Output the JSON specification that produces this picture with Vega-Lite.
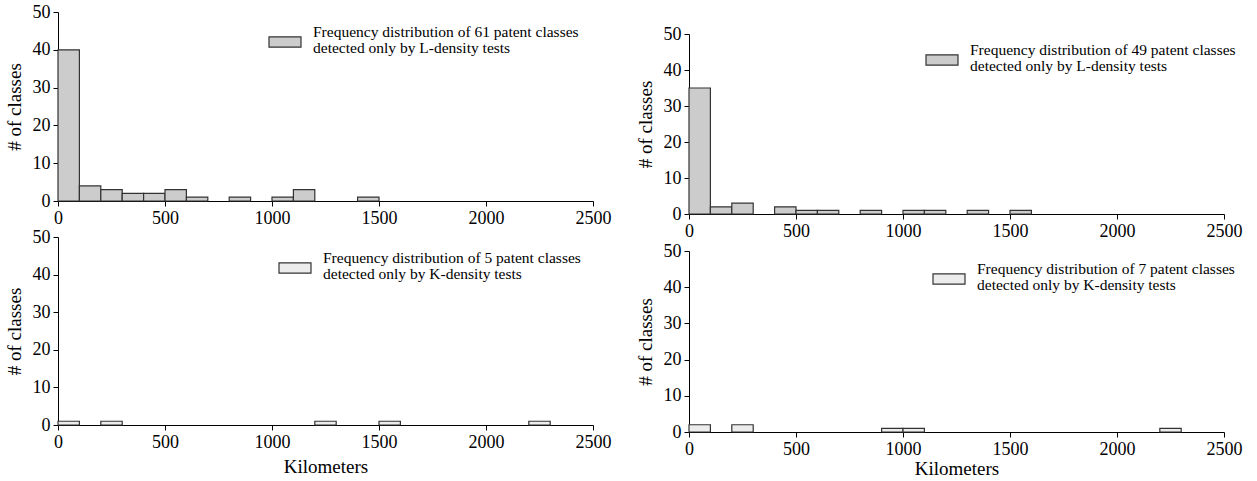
{
  "$schema": "https://vega.github.io/schema/vega-lite/v6.json",
  "padding": {"left": 5, "top": 3, "right": 5, "bottom": 0},
  "background": "white",
  "config": {
    "font": "Liberation Serif",
    "view": {"stroke": null},
    "axis": {
      "labelFont": "Liberation Serif", "labelFontSize": 18, "labelColor": "#000",
      "titleFont": "Liberation Serif", "titleFontSize": 19, "titleFontWeight": "normal", "titleColor": "#000",
      "domainColor": "#000", "domainWidth": 1, "tickColor": "#000", "tickSize": 5,
      "labelPadding": 3, "labelFlush": false, "labelOverlap": false, "grid": false, "format": "d"
    },
    "axisY": {"titlePadding": 8},
    "legend": {
      "orient": "none", "labelFont": "Liberation Serif", "labelFontSize": 15.5, "labelColor": "#000",
      "labelLimit": 600, "labelOffset": 11,
      "symbolType": "M-1,-0.32H1V0.32H-1Z", "symbolSize": 1024,
      "symbolStrokeColor": "#333", "symbolStrokeWidth": 1.2, "symbolOpacity": 1
    }
  },
  "datasets": {
    "L61": [
      {"series": "L61", "bin_start": 0, "bin_end": 100, "count": 40},
      {"series": "L61", "bin_start": 100, "bin_end": 200, "count": 4},
      {"series": "L61", "bin_start": 200, "bin_end": 300, "count": 3},
      {"series": "L61", "bin_start": 300, "bin_end": 400, "count": 2},
      {"series": "L61", "bin_start": 400, "bin_end": 500, "count": 2},
      {"series": "L61", "bin_start": 500, "bin_end": 600, "count": 3},
      {"series": "L61", "bin_start": 600, "bin_end": 700, "count": 1},
      {"series": "L61", "bin_start": 800, "bin_end": 900, "count": 1},
      {"series": "L61", "bin_start": 1000, "bin_end": 1100, "count": 1},
      {"series": "L61", "bin_start": 1100, "bin_end": 1200, "count": 3},
      {"series": "L61", "bin_start": 1400, "bin_end": 1500, "count": 1}
    ],
    "L49": [
      {"series": "L49", "bin_start": 0, "bin_end": 100, "count": 35},
      {"series": "L49", "bin_start": 100, "bin_end": 200, "count": 2},
      {"series": "L49", "bin_start": 200, "bin_end": 300, "count": 3},
      {"series": "L49", "bin_start": 400, "bin_end": 500, "count": 2},
      {"series": "L49", "bin_start": 500, "bin_end": 600, "count": 1},
      {"series": "L49", "bin_start": 600, "bin_end": 700, "count": 1},
      {"series": "L49", "bin_start": 800, "bin_end": 900, "count": 1},
      {"series": "L49", "bin_start": 1000, "bin_end": 1100, "count": 1},
      {"series": "L49", "bin_start": 1100, "bin_end": 1200, "count": 1},
      {"series": "L49", "bin_start": 1300, "bin_end": 1400, "count": 1},
      {"series": "L49", "bin_start": 1500, "bin_end": 1600, "count": 1}
    ],
    "K5": [
      {"series": "K5", "bin_start": 0, "bin_end": 100, "count": 1},
      {"series": "K5", "bin_start": 200, "bin_end": 300, "count": 1},
      {"series": "K5", "bin_start": 1200, "bin_end": 1300, "count": 1},
      {"series": "K5", "bin_start": 1500, "bin_end": 1600, "count": 1},
      {"series": "K5", "bin_start": 2200, "bin_end": 2300, "count": 1}
    ],
    "K7": [
      {"series": "K7", "bin_start": 0, "bin_end": 100, "count": 2},
      {"series": "K7", "bin_start": 200, "bin_end": 300, "count": 2},
      {"series": "K7", "bin_start": 900, "bin_end": 1000, "count": 1},
      {"series": "K7", "bin_start": 1000, "bin_end": 1100, "count": 1},
      {"series": "K7", "bin_start": 2200, "bin_end": 2300, "count": 1}
    ]
  },
  "spacing": 25,
  "resolve": {"scale": {"color": "independent", "x": "independent", "y": "independent"}, "legend": {"color": "independent"}},
  "hconcat": [
    {
      "spacing": 1,
      "resolve": {"scale": {"color": "independent", "x": "independent", "y": "independent"}, "legend": {"color": "independent"}},
      "vconcat": [
        {
          "width": 535, "height": 189,
          "data": {"name": "L61"},
          "mark": {"type": "bar", "stroke": "#333", "strokeWidth": 1.2},
          "encoding": {
            "x": {"field": "bin_start", "type": "quantitative", "scale": {"domain": [0, 2500], "nice": false}, "axis": {"values": [0, 500, 1000, 1500, 2000, 2500], "title": null}},
            "x2": {"field": "bin_end"},
            "y": {"field": "count", "type": "quantitative", "scale": {"domain": [0, 50], "nice": false}, "axis": {"values": [0, 10, 20, 30, 40, 50], "title": "# of classes"}},
            "y2": {"datum": 0},
            "color": {"field": "series", "type": "nominal", "scale": {"range": ["#cccccc"]},
              "legend": {"title": null, "legendX": 210, "legendY": 13,
                "labelExpr": "['Frequency distribution of 61 patent classes', 'detected only by L-density tests']",
                "encode": {"labels": {"update": {"lineHeight": {"value": 16}, "dy": {"value": -10}}}}}}
          }
        },
        {
          "width": 535, "height": 188,
          "data": {"name": "K5"},
          "mark": {"type": "bar", "stroke": "#333", "strokeWidth": 1.2},
          "encoding": {
            "x": {"field": "bin_start", "type": "quantitative", "scale": {"domain": [0, 2500], "nice": false}, "axis": {"values": [0, 500, 1000, 1500, 2000, 2500], "title": "Kilometers", "titlePadding": 6}},
            "x2": {"field": "bin_end"},
            "y": {"field": "count", "type": "quantitative", "scale": {"domain": [0, 50], "nice": false}, "axis": {"values": [0, 10, 20, 30, 40, 50], "title": "# of classes"}},
            "y2": {"datum": 0},
            "color": {"field": "series", "type": "nominal", "scale": {"range": ["#ececec"]},
              "legend": {"title": null, "legendX": 220, "legendY": 14,
                "labelExpr": "['Frequency distribution of 5 patent classes', 'detected only by K-density tests']",
                "encode": {"labels": {"update": {"lineHeight": {"value": 16}, "dy": {"value": -10}}}}}}
          }
        }
      ]
    },
    {
      "spacing": 2,
      "resolve": {"scale": {"color": "independent", "x": "independent", "y": "independent"}, "legend": {"color": "independent"}},
      "vconcat": [
        {
          "width": 535, "height": 11,
          "data": {"values": []},
          "mark": "point"
        },
        {
          "width": 535, "height": 180,
          "data": {"name": "L49"},
          "mark": {"type": "bar", "stroke": "#333", "strokeWidth": 1.2},
          "encoding": {
            "x": {"field": "bin_start", "type": "quantitative", "scale": {"domain": [0, 2500], "nice": false}, "axis": {"values": [0, 500, 1000, 1500, 2000, 2500], "title": null}},
            "x2": {"field": "bin_end"},
            "y": {"field": "count", "type": "quantitative", "scale": {"domain": [0, 50], "nice": false}, "axis": {"values": [0, 10, 20, 30, 40, 50], "title": "# of classes"}},
            "y2": {"datum": 0},
            "color": {"field": "series", "type": "nominal", "scale": {"range": ["#cccccc"]},
              "legend": {"title": null, "legendX": 236, "legendY": 9,
                "labelExpr": "['Frequency distribution of 49 patent classes', 'detected only by L-density tests']",
                "encode": {"labels": {"update": {"lineHeight": {"value": 16}, "dy": {"value": -10}}}}}}
          }
        },
        {
          "width": 535, "height": 181,
          "data": {"name": "K7"},
          "mark": {"type": "bar", "stroke": "#333", "strokeWidth": 1.2},
          "encoding": {
            "x": {"field": "bin_start", "type": "quantitative", "scale": {"domain": [0, 2500], "nice": false}, "axis": {"values": [0, 500, 1000, 1500, 2000, 2500], "title": "Kilometers", "titlePadding": 1}},
            "x2": {"field": "bin_end"},
            "y": {"field": "count", "type": "quantitative", "scale": {"domain": [0, 50], "nice": false}, "axis": {"values": [0, 10, 20, 30, 40, 50], "title": "# of classes"}},
            "y2": {"datum": 0},
            "color": {"field": "series", "type": "nominal", "scale": {"range": ["#ececec"]},
              "legend": {"title": null, "legendX": 243, "legendY": 11,
                "labelExpr": "['Frequency distribution of 7 patent classes', 'detected only by K-density tests']",
                "encode": {"labels": {"update": {"lineHeight": {"value": 16}, "dy": {"value": -10}}}}}}
          }
        }
      ]
    }
  ]
}
